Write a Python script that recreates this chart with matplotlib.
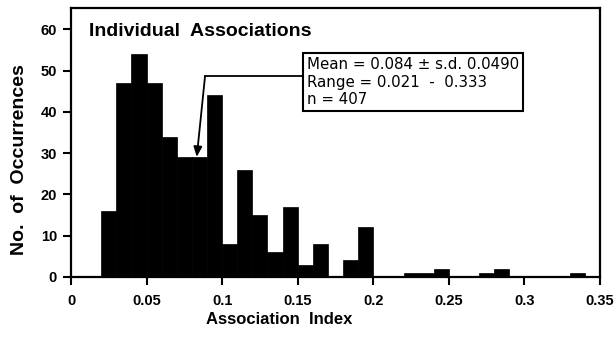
import matplotlib
matplotlib.use("Agg")
import matplotlib.pyplot as plt
import numpy as np

plt.rcParams['font.family'] = ['Liberation Sans', 'DejaVu Sans']

bin_left = [0.02, 0.03, 0.04, 0.05, 0.06, 0.07, 0.08, 0.09, 0.10, 0.11,
            0.12, 0.13, 0.14, 0.15, 0.16, 0.17, 0.18, 0.19, 0.22, 0.23,
            0.24, 0.27, 0.28, 0.33]
counts = [16, 47, 54, 47, 34, 29, 29, 44, 8, 26,
          15, 6, 17, 3, 8, 0, 4, 12, 1, 1,
          2, 1, 2, 1]
bin_width = 0.01

x_ticks = [0, 0.05, 0.1, 0.15, 0.2, 0.25, 0.3, 0.35]
x_tick_labels = ["0", "0.05", "0.1", "0.15", "0.2", "0.25", "0.3", "0.35"]
y_ticks = [0, 10, 20, 30, 40, 50, 60]

title = "Individual  Associations"
stats_text = "Mean = 0.084 \u00b1 s.d. 0.0490\nRange = 0.021  -  0.333\nn = 407"
mean_val = 0.084

fig = plt.figure(figsize=(6.15, 3.38), dpi=100)
ax = fig.add_axes([71/615, 61/338, 529/615, 269/338])

ax.bar(bin_left, counts, width=bin_width, align='edge', color='black',
       edgecolor='black', linewidth=0.5)

ax.set_xlim(0, 0.35)
ax.set_ylim(0, 65.2)
ax.set_xticks(x_ticks)
ax.set_xticklabels(x_tick_labels)
ax.set_yticks(y_ticks)
for s in ax.spines.values():
    s.set_linewidth(1.6)
ax.tick_params(direction='out', length=6, width=1.5, labelsize=10.5, pad=4)
ax.tick_params(axis='x', pad=6)
for lab in ax.get_xticklabels() + ax.get_yticklabels():
    lab.set_fontweight('semibold')

ax.set_xlabel("Association  Index", fontsize=12, fontweight='bold')
ax.xaxis.set_label_coords(0.393, -0.13)
ax.set_ylabel("No.  of  Occurrences", fontsize=14, fontweight='heavy')
ax.yaxis.set_label_coords(-0.082, 0.435)

ax.text(0.012, 59.6, title, fontsize=14, fontweight='bold', ha='left', va='center')

ax.text(0.1562, 53.3, stats_text, fontsize=10.8, ha='left', va='top',
        family='DejaVu Sans', linespacing=1.22,
        bbox=dict(boxstyle='square,pad=0.25', facecolor='white', edgecolor='black', linewidth=1.5))

ax.plot([0.1528, 0.0887], [48.7, 48.7], color='black', lw=1.3)
ax.annotate("", xy=(mean_val - 0.0008, 29.1), xytext=(0.0887, 48.7),
            arrowprops=dict(arrowstyle='-|>,head_length=0.6,head_width=0.25',
                            color='black', lw=1.3, shrinkA=0, shrinkB=0))

fig.savefig("out.png", dpi=100)
